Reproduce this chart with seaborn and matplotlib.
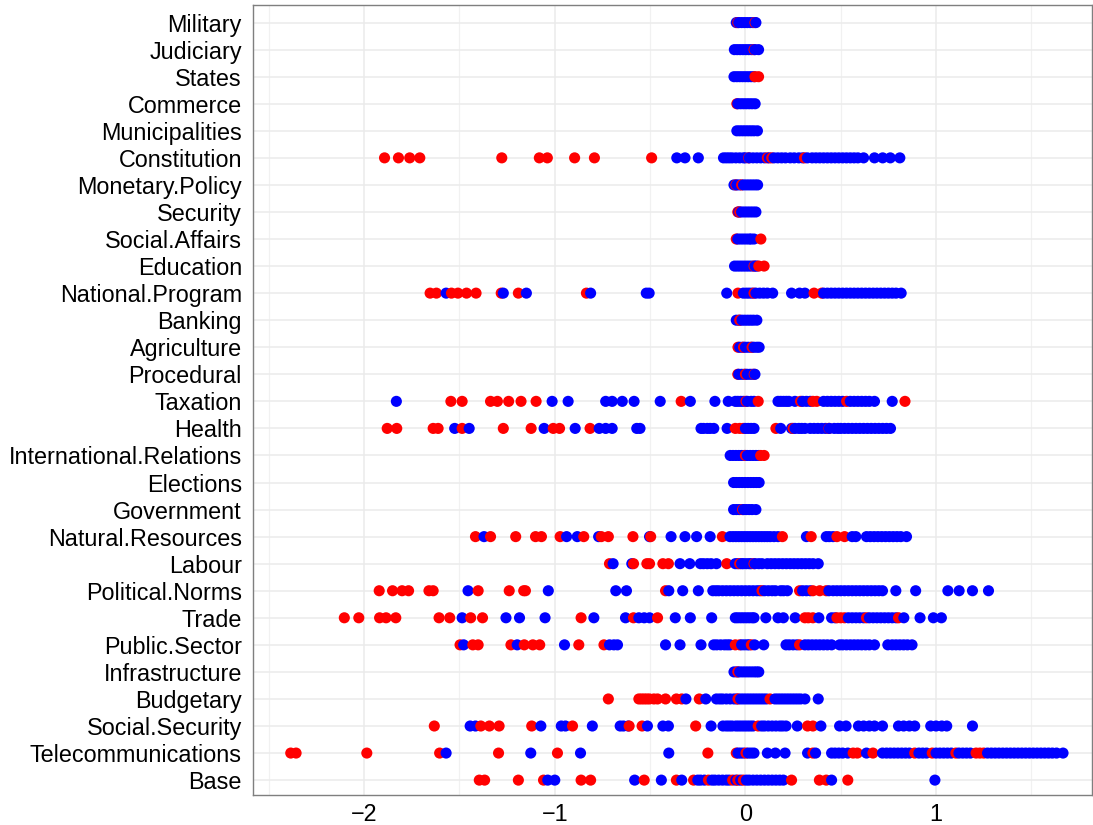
import numpy as np
import pandas as pd
import matplotlib
matplotlib.use("Agg")
import matplotlib.pyplot as plt
import seaborn as sns

categories = ["Military", "Judiciary", "States", "Commerce", "Municipalities",
              "Constitution", "Monetary.Policy", "Security", "Social.Affairs",
              "Education", "National.Program", "Banking", "Agriculture",
              "Procedural", "Taxation", "Health", "International.Relations",
              "Elections", "Government", "Natural.Resources", "Labour",
              "Political.Norms", "Trade", "Public.Sector", "Infrastructure",
              "Budgetary", "Social.Security", "Telecommunications", "Base"]

red_values = {
    "Military": [-0.04, 0.05],
    "Judiciary": [0.045],
    "States": [0.05, 0.069],
    "Commerce": [-0.045],
    "Municipalities": [],
    "Constitution": [-1.893, -1.820, -1.761, -1.708, -1.278, -1.081, -1.039, -0.896,
                     -0.792, -0.492, 0.017, 0.115, 0.138, 0.31],
    "Monetary.Policy": [-0.05, -0.02],
    "Security": [-0.04, -0.03],
    "Social.Affairs": [-0.048, 0.081],
    "Education": [0.045, 0.07, 0.098],
    "National.Program": [-1.654, -1.621, -1.542, -1.508, -1.463, -1.413, -1.281, -1.191,
                         -0.834, -0.039, 0.045, 0.36, 0.40],
    "Banking": [-0.03],
    "Agriculture": [-0.039, -0.01, 0.035],
    "Procedural": [-0.04, 0.0, 0.046],
    "Taxation": [-1.545, -1.486, -1.337, -1.301, -1.242, -1.177, -1.098, -0.337, 0.003,
                 0.067, 0.289, 0.354, 0.374, 0.531, 0.837],
    "Health": [-1.879, -1.829, -1.638, -1.612, -1.486, -1.27, -1.124, -1.008, -0.975,
               -0.815, -0.053, -0.03, -0.011, 0.16, 0.25, 0.438],
    "International.Relations": [0.0, 0.08, 0.098],
    "Elections": [],
    "Government": [-0.015],
    "Natural.Resources": [-1.416, -1.337, -1.205, -1.101, -1.07, -0.972, -0.848, -0.756,
                          -0.719, -0.590, -0.497, -0.121, 0.194, 0.345, 0.48, 0.52],
    "Labour": [-0.713, -0.587, -0.517, -0.503, -0.433, -0.404, -0.098, -0.03, 0.045],
    "Political.Norms": [-1.921, -1.851, -1.801, -1.767, -1.66, -1.638, -1.402, -1.239,
                        -1.163, -1.154, -0.419, 0.087, 0.284, 0.354, 0.39, 0.424],
    "Trade": [-2.104, -2.028, -1.919, -1.885, -1.834, -1.607, -1.551, -1.441, -1.379,
              -0.862, -0.587, -0.461, 0.312, 0.33, 0.354, 0.48, 0.50, 0.52, 0.635, 0.803],
    "Public.Sector": [-1.497, -1.43, -1.402, -1.23, -1.16, -1.115, -1.079, -0.874, -0.742,
                      -0.053, -0.03, 0.031, 0.284],
    "Infrastructure": [-0.04],
    "Budgetary": [-0.719, -0.559, -0.545, -0.531, -0.517, -0.503, -0.48, -0.461, -0.419,
                  -0.362, -0.334, -0.242, -0.039, 0.129],
    "Social.Security": [-1.632, -1.388, -1.343, -1.292, -1.121, -0.907, -0.61, -0.542,
                        -0.261, 0.067, 0.326, 0.354],
    "Telecommunications": [-2.385, -2.357, -1.986, -1.604, -1.295, -0.986, -0.197, -0.048,
                           0.003, 0.354, 0.565, 0.587, 0.669, 0.888, 0.98, 1.104, 1.21,
                           1.23, 1.25],
    "Base": [-1.396, -1.368, -1.191, -1.059, -0.862, -0.812, -0.531, -0.362, -0.272,
             -0.194, -0.067, -0.04, -0.011, 0.242, 0.388, 0.424, 0.537],
}

blue_values = {
    "Military": [-0.048, -0.035, -0.02, -0.005, 0.01, 0.025, 0.04, 0.055],
    "Judiciary": [-0.058, -0.043, -0.028, -0.013, 0.002, 0.017, 0.032, 0.05, 0.069],
    "States": [-0.06, -0.045, -0.03, -0.015, 0.0, 0.015, 0.03, 0.045],
    "Commerce": [-0.04, -0.025, -0.01, 0.005, 0.02, 0.035, 0.051],
    "Municipalities": [-0.045, -0.03, -0.015, 0.0, 0.015, 0.03, 0.045, 0.063],
    "Constitution": [-0.36, -0.317, -0.247, -0.115, -0.1, -0.085, -0.07, -0.05, -0.03,
                     -0.01, 0.0, 0.02, 0.04, 0.06, 0.08, 0.1, 0.125, 0.15, 0.17, 0.19,
                     0.21, 0.235, 0.256, 0.28, 0.3, 0.325, 0.35, 0.37, 0.39, 0.41, 0.43,
                     0.45, 0.47, 0.49, 0.51, 0.53, 0.55, 0.57, 0.59, 0.62, 0.677, 0.72,
                     0.76, 0.81],
    "Monetary.Policy": [-0.06, -0.045, -0.03, -0.01, 0.005, 0.02, 0.035, 0.05, 0.064],
    "Security": [-0.035, -0.02, -0.005, 0.01, 0.025, 0.04, 0.055],
    "Social.Affairs": [-0.04, -0.025, -0.01, 0.005, 0.02, 0.03, 0.045],
    "Education": [-0.057, -0.042, -0.027, -0.012, 0.003, 0.018, 0.033, 0.05, 0.06],
    "National.Program": [-1.570, -1.27, -1.149, -0.812, -0.52, -0.505, -0.098, -0.011,
                         0.005, 0.02, 0.035, 0.055, 0.075, 0.095, 0.115, 0.143, 0.242,
                         0.284, 0.312, 0.41, 0.43, 0.45, 0.47, 0.49, 0.51, 0.53, 0.55,
                         0.57, 0.59, 0.61, 0.63, 0.65, 0.67, 0.69, 0.71, 0.73, 0.75,
                         0.77, 0.79, 0.817],
    "Banking": [-0.048, -0.033, -0.018, -0.003, 0.012, 0.027, 0.042, 0.06],
    "Agriculture": [-0.03, -0.015, 0.0, 0.015, 0.03, 0.045, 0.06, 0.072],
    "Procedural": [-0.035, -0.02, -0.005, 0.01, 0.025, 0.038, 0.05],
    "Taxation": [-1.831, -1.014, -0.930, -0.733, -0.699, -0.646, -0.584, -0.447, -0.289,
                 -0.16, -0.09, -0.053, -0.04, -0.025, -0.01, 0.01, 0.03, 0.045, 0.171,
                 0.185, 0.2, 0.215, 0.228, 0.26, 0.3, 0.32, 0.34, 0.41, 0.43, 0.45,
                 0.47, 0.49, 0.51, 0.55, 0.57, 0.59, 0.61, 0.63, 0.65, 0.677, 0.77],
    "Health": [-1.525, -1.449, -1.056, -0.893, -0.767, -0.733, -0.699, -0.570, -0.553,
               -0.233, -0.22, -0.2, -0.185, -0.166, -0.096, 0.0, 0.015, 0.03, 0.045,
               0.185, 0.242, 0.26, 0.28, 0.295, 0.312, 0.34, 0.36, 0.38, 0.40, 0.42,
               0.44, 0.466, 0.485, 0.5, 0.52, 0.54, 0.56, 0.58, 0.6, 0.62, 0.64, 0.66,
               0.68, 0.7, 0.72, 0.74, 0.761],
    "International.Relations": [-0.08, -0.065, -0.05, -0.035, -0.02, -0.005, 0.01,
                                0.025, 0.04, 0.055, 0.07],
    "Elections": [-0.062, -0.047, -0.032, -0.017, -0.002, 0.013, 0.028, 0.043, 0.058,
                  0.072],
    "Government": [-0.062, -0.047, -0.032, -0.01, 0.005, 0.02, 0.035, 0.055],
    "Natural.Resources": [-1.371, -0.938, -0.882, -0.770, -0.503, -0.39, -0.317, -0.256,
                          -0.185, -0.081, -0.065, -0.05, -0.035, -0.02, -0.005, 0.01,
                          0.025, 0.04, 0.055, 0.07, 0.085, 0.1, 0.115, 0.13, 0.15,
                          0.171, 0.32, 0.424, 0.44, 0.46, 0.56, 0.579, 0.635, 0.655,
                          0.675, 0.695, 0.715, 0.735, 0.755, 0.775, 0.795, 0.815, 0.845],
    "Labour": [-0.694, -0.596, -0.343, -0.292, -0.236, -0.22, -0.2, -0.18, -0.152,
               -0.053, -0.04, -0.02, -0.01, 0.005, 0.02, 0.03, 0.05, 0.07, 0.087,
               0.115, 0.135, 0.155, 0.175, 0.195, 0.215, 0.235, 0.255, 0.275, 0.295,
               0.315, 0.335, 0.355, 0.382],
    "Political.Norms": [-1.455, -1.034, -0.68, -0.624, -0.402, -0.329, -0.247, -0.171,
                        -0.155, -0.14, -0.12, -0.1, -0.08, -0.06, -0.04, -0.02, 0.0,
                        0.02, 0.04, 0.06, 0.075, 0.1, 0.12, 0.14, 0.157, 0.185, 0.2,
                        0.22, 0.3, 0.32, 0.34, 0.438, 0.46, 0.48, 0.5, 0.52, 0.54, 0.56,
                        0.58, 0.6, 0.62, 0.64, 0.66, 0.68, 0.7, 0.719, 0.789, 0.893,
                        1.062, 1.121, 1.191, 1.275],
    "Trade": [-1.486, -1.256, -1.185, -1.051, -0.795, -0.629, -0.559, -0.531, -0.503,
              -0.368, -0.289, -0.177, -0.053, -0.04, -0.025, -0.01, 0.005, 0.02, 0.035,
              0.045, 0.107, 0.171, 0.199, 0.261, 0.385, 0.452, 0.47, 0.54, 0.56, 0.58,
              0.6, 0.62, 0.65, 0.67, 0.69, 0.71, 0.73, 0.75, 0.77, 0.79, 0.831, 0.916,
              0.986, 1.028],
    "Public.Sector": [-1.478, -1.197, -0.949, -0.713, -0.69, -0.671, -0.419, -0.343,
                      -0.233, -0.166, -0.15, -0.13, -0.11, -0.095, -0.081, -0.02, -0.005,
                      0.01, 0.02, 0.048, 0.096, 0.213, 0.23, 0.25, 0.27, 0.312, 0.33,
                      0.35, 0.37, 0.39, 0.41, 0.43, 0.452, 0.494, 0.51, 0.53, 0.55, 0.57,
                      0.59, 0.61, 0.63, 0.65, 0.677, 0.747, 0.77, 0.79, 0.81, 0.83, 0.85,
                      0.874],
    "Infrastructure": [-0.06, -0.045, -0.03, -0.015, 0.0, 0.015, 0.03, 0.045, 0.058, 0.07],
    "Budgetary": [-0.312, -0.208, -0.152, -0.135, -0.12, -0.1, -0.08, -0.06, -0.045,
                  -0.025, -0.01, 0.005, 0.02, 0.035, 0.05, 0.065, 0.08, 0.095, 0.11,
                  0.155, 0.17, 0.185, 0.2, 0.215, 0.23, 0.245, 0.26, 0.275, 0.29, 0.312,
                  0.382],
    "Social.Security": [-1.444, -1.416, -1.073, -0.966, -0.944, -0.803, -0.657, -0.64,
                        -0.615, -0.514, -0.433, -0.404, -0.180, -0.118, -0.1, -0.085,
                        -0.07, -0.05, -0.035, -0.02, -0.005, 0.01, 0.025, 0.04, 0.085,
                        0.1, 0.12, 0.14, 0.16, 0.18, 0.195, 0.213, 0.272, 0.396, 0.494,
                        0.528, 0.593, 0.62, 0.65, 0.677, 0.719, 0.803, 0.83, 0.86, 0.888,
                        0.972, 1.0, 1.03, 1.056, 1.191],
    "Telecommunications": [-1.570, -1.126, -0.865, -0.402, -0.039, -0.025, -0.01, 0.015,
                           0.03, 0.045, 0.115, 0.157, 0.208, 0.326, 0.368, 0.452, 0.47,
                           0.49, 0.51, 0.537, 0.635, 0.719, 0.74, 0.76, 0.78, 0.80, 0.82,
                           0.84, 0.86, 0.91, 0.93, 0.95, 1.0, 1.02, 1.04, 1.06, 1.08,
                           1.12, 1.14, 1.16, 1.18, 1.27, 1.29, 1.31, 1.33, 1.35, 1.37,
                           1.39, 1.41, 1.43, 1.45, 1.47, 1.49, 1.51, 1.53, 1.55, 1.57,
                           1.59, 1.61, 1.632, 1.666],
    "Base": [-1.037, -1.0, -0.581, -0.441, -0.334, -0.25, -0.235, -0.215, -0.175, -0.16,
             -0.14, -0.12, -0.1, -0.085, -0.05, -0.025, 0.005, 0.02, 0.04, 0.06, 0.08,
             0.1, 0.12, 0.14, 0.16, 0.18, 0.199, 0.452, 0.994],
}

x_ticks = [-2, -1, 0, 1]
x_tick_labels = ["\u22122", "\u22121", "0", "1"]
minor_ticks = [-2.5, -1.5, -0.5, 0.5, 1.5]

rows = []
for cat in categories:
    for v in red_values[cat]:
        rows.append((v, cat, "red"))
    for v in blue_values[cat]:
        rows.append((v, cat, "blue"))
df = pd.DataFrame(rows, columns=["value", "category", "colour"])
df = df.sort_values("value", kind="stable").reset_index(drop=True)

sns.set_theme(style="white")
plt.rcParams["font.family"] = ["Liberation Sans", "DejaVu Sans"]

fig = plt.figure(figsize=(10.93, 8.25), dpi=100)
ax = fig.add_axes([253 / 1093, 1 - 795 / 825, (1092 - 253) / 1093, (795 - 5) / 825])

sns.stripplot(data=df, x="value", y="category", hue="colour", order=categories,
              hue_order=["red", "blue"], palette={"red": "#FF0000", "blue": "#0000FF"},
              jitter=False, size=8.0, linewidth=0, legend=False, ax=ax, zorder=3)

ax.set_xlim(-2.583, 1.818)
ax.set_ylim(len(categories) - 1 + 0.55, -0.65)
ax.set_xticks(x_ticks)
ax.set_xticklabels(x_tick_labels)
ax.set_xticks(minor_ticks, minor=True)
ax.grid(True, which="major", axis="both", color="#EBEBEB", linewidth=1.1, zorder=0)
ax.grid(True, which="minor", axis="x", color="#F1F1F1", linewidth=0.9, zorder=0)
ax.set_axisbelow(True)
ax.set_xlabel("")
ax.set_ylabel("")
ax.tick_params(axis="both", which="major", length=4, width=0.9, color="#333333",
               labelsize=16.8, labelcolor="black", pad=4)
ax.tick_params(axis="x", which="minor", length=0)
ax.tick_params(axis="x", which="major", pad=2)
for s in ax.spines.values():
    s.set_visible(True)
    s.set_color("#7F7F7F")
    s.set_linewidth(1.0)
ax.set_facecolor("white")

fig.savefig("out.png", dpi=100)
